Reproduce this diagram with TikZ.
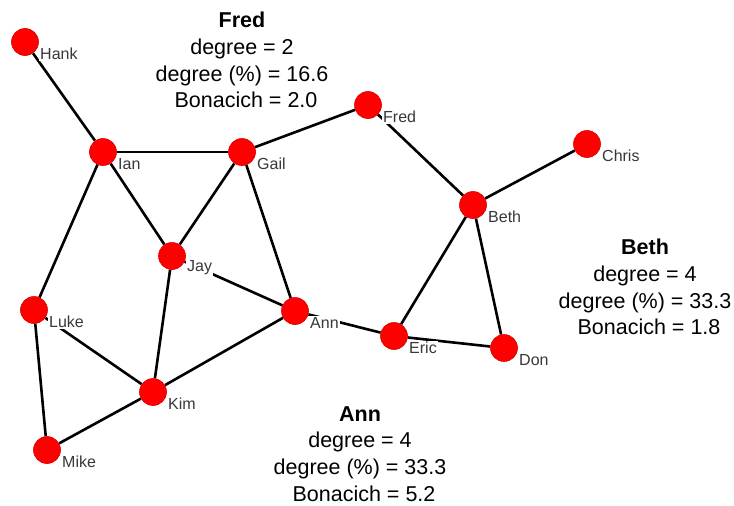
\documentclass[tikz,border=0pt]{standalone}
\usepackage{fontspec}
\setmainfont{Liberation Sans}
\usetikzlibrary{backgrounds}
\begin{document}
\begin{tikzpicture}[x=1pt,y=-1pt,
  actor/.style={circle, fill=red, draw=red!85!black, line width=0.6pt, minimum size=27pt, inner sep=0pt},
  tie/.style={line width=2.6pt, black},
  lbl/.style={anchor=west, fill=white, inner sep=1pt, text=black!78, font=\fontsize{16}{18}\selectfont},
  info/.style={align=center, font=\fontsize{21.5}{26.7}\selectfont, inner sep=0pt}]
\useasboundingbox (0,0) rectangle (734,506);

% actors
\node[actor] (hank)  at (25,42)   {};
\node[actor] (ian)   at (103,152) {};
\node[actor] (gail)  at (242,152) {};
\node[actor] (fred)  at (368,105) {};
\node[actor] (chris) at (587,144) {};
\node[actor] (beth)  at (473,205) {};
\node[actor] (jay)   at (172,256) {};
\node[actor] (luke)  at (34,310)  {};
\node[actor] (ann)   at (295,311) {};
\node[actor] (eric)  at (394,336) {};
\node[actor] (don)   at (504,348) {};
\node[actor] (kim)   at (153,392) {};
\node[actor] (mike)  at (47,450)  {};

% ties
\begin{scope}[on background layer]
\fill[white] (0,0) rectangle (734,506);
\draw[tie] (hank) -- (ian);
\draw[tie] (ian) -- (gail);
\draw[tie] (gail) -- (fred);
\draw[tie] (fred) -- (beth);
\draw[tie] (chris) -- (beth);
\draw[tie] (ian) -- (jay);
\draw[tie] (gail) -- (jay);
\draw[tie] (gail) -- (ann);
\draw[tie] (ian) -- (luke);
\draw[tie] (jay) -- (ann);
\draw[tie] (jay) -- (kim);
\draw[tie] (luke) -- (kim);
\draw[tie] (luke) -- (mike);
\draw[tie] (mike) -- (kim);
\draw[tie] (kim) -- (ann);
\draw[tie] (ann) -- (eric);
\draw[tie] (eric) -- (beth);
\draw[tie] (beth) -- (don);
\draw[tie] (eric) -- (don);
\end{scope}

% labels
\node[lbl] (hankl)  at ([shift={(14,12)}]hank.center)  {Hank};
\node[lbl] (ianl)   at ([shift={(14,12)}]ian.center)   {Ian};
\node[lbl] (gaill)  at ([shift={(14,12)}]gail.center)  {Gail};
\node[lbl] (fredl)  at ([shift={(14,12)}]fred.center)  {Fred};
\node[lbl] (chrisl) at ([shift={(14,12)}]chris.center) {Chris};
\node[lbl] (bethl)  at ([shift={(14,12)}]beth.center)  {Beth};
\node[lbl] (jayl)   at ([shift={(14,12)}]jay.center)   {Jay};
\node[lbl] (lukel)  at ([shift={(14,12)}]luke.center)  {Luke};
\node[lbl] (annl)   at ([shift={(14,12)}]ann.center)   {Ann};
\node[lbl] (ericl)  at ([shift={(14,12)}]eric.center)  {Eric};
\node[lbl] (donl)   at ([shift={(14,12)}]don.center)   {Don};
\node[lbl] (kiml)   at ([shift={(14,12)}]kim.center)   {Kim};
\node[lbl] (mikel)  at ([shift={(14,12)}]mike.center)  {Mike};

% info blocks
\node[info] (fredinfo) at (242,60) {\textbf{Fred}\\degree = 2\\degree (\%) = 16.6\\\hspace{8pt}Bonacich = 2.0};
\node[info] (bethinfo) at (645,287) {\textbf{Beth}\\degree = 4\\degree (\%) = 33.3\\\hspace{8pt}Bonacich = 1.8};
\node[info] (anninfo)  at (360,454) {\textbf{Ann}\\degree = 4\\degree (\%) = 33.3\\\hspace{8pt}Bonacich = 5.2};
\end{tikzpicture}
\end{document}
